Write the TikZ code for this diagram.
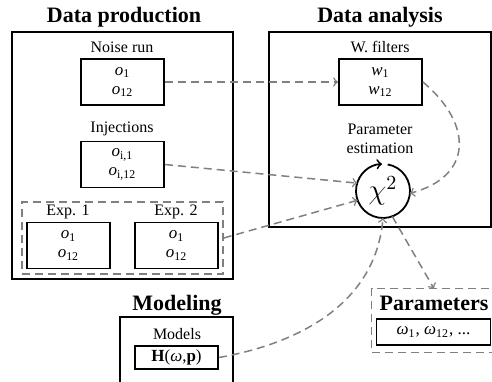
\documentclass[tikz,border=0pt]{standalone}
\usepackage{fontspec}
\setmainfont{Liberation Serif}

\newcommand{\vsub}[2]{\textit{#1}\textsubscript{#2}}

\tikzstyle{frame}=[draw,line width=0.9pt]
\tikzstyle{head}=[font=\fontsize{11}{13}\selectfont\bfseries,inner sep=1pt]
\tikzstyle{note}=[font=\fontsize{8}{9.6}\selectfont,inner sep=1pt,align=center]
\tikzstyle{data}=[draw,line width=0.9pt,minimum width=41.5pt,minimum height=23pt,inner sep=0pt,align=center,font=\fontsize{8.5}{9.5}\selectfont]
\tikzstyle{group}=[draw,gray,line width=0.75pt,dash pattern=on 4pt off 2.5pt,inner sep=0pt]
\tikzstyle{link}=[draw,->,gray,line width=0.75pt,dash pattern=on 4pt off 2.5pt]

\begin{document}
\begin{tikzpicture}[x=0.5pt,y=-0.5pt]
     \useasboundingbox (0,0) rectangle (492,381);
     \clip (0,0) rectangle (492,381);
     % Headings and outer frames
     \foreach \pos/\name/\text in {{(124,17)/hprod/Data production}, {(380,17)/hana/Data analysis},
       {(177,305)/hmod/Modeling}, {(434,303)/hpar/Parameters}}
     \node[head] (\name) at \pos {\text};

     \draw[frame] (12,32) rectangle (233,279);
     \draw[frame] (269,32) rectangle (491,227);
     \draw[frame] (120,317) rectangle (233,395);

     % Small captions above the boxes
     \foreach \pos/\name/\text in {{(122,47)/lnoise/Noise run}, {(122,129)/linj/Injections},
       {(68,212)/lexpa/Exp. 1}, {(176,212)/lexpb/Exp. 2}, {(380,47)/lwf/W. filters},
       {(380,139)/lest/Parameter\\estimation}, {(177,334)/lmod/Models}}
     \node[note] (\name) at \pos {\text};

     % Then the data boxes
     \foreach \pos/\name/\text in {{(122.5,82)/noise/{\vsub{o}{1}\\\vsub{o}{12}}},
       {(122.5,164.5)/inj/{\vsub{o}{i,1}\\\vsub{o}{i,12}}},
       {(68.5,245.5)/expa/{\vsub{o}{1}\\\vsub{o}{12}}},
       {(176.5,245.5)/expb/{\vsub{o}{1}\\\vsub{o}{12}}},
       {(380.5,82)/wf/{\vsub{w}{1}\\\vsub{w}{12}}}}
     \node[data] (\name) at \pos {\text};

     \node[data,minimum height=11.5pt] (model) at (176.5,357.5) {\textbf{H}(\textit{ω},\textbf{p})};
     \node[data,minimum width=57pt,minimum height=13pt] (pval) at (433.5,332) {\vsub{ω}{1}, \vsub{ω}{12}, ...};

     % Dashed groups (the one on the right runs off the page)
     \node[group,minimum width=100.5pt,minimum height=36pt] (exps) at (122.5,238) {};
     \node[inner sep=0pt,minimum width=59pt,minimum height=31.5pt] (pars) at (431,320.5) {};
     \draw[group] (pars.north east) ++(12,0) -- (pars.north west) -- (pars.south west) -- ++(132,0);

     % The estimator
     \node[circle,minimum size=27pt,inner sep=0pt,outer sep=0pt,font=\fontsize{14}{14}\selectfont] (chi) at (383,191) {$\chi^2$};
     \draw[line width=0.9pt,->] (chi.80) arc[start angle=80,end angle=-268,radius=13.5pt];

     % Connect boxes with dashed arrows
     \path[link] (noise) -- (wf);
     \path[link] (inj.east) -- (chi.163);
     \path[link] (exps.east) -- (chi.200);
     \path[link] (wf.east) to[out=-40,in=15,looseness=1.5] (chi.-5);
     \path[link] (model.east) to[out=10,in=-95] (chi.south);
     \path[link] (chi.-70) -- (pars.north -| hpar);
\end{tikzpicture}
\end{document}
